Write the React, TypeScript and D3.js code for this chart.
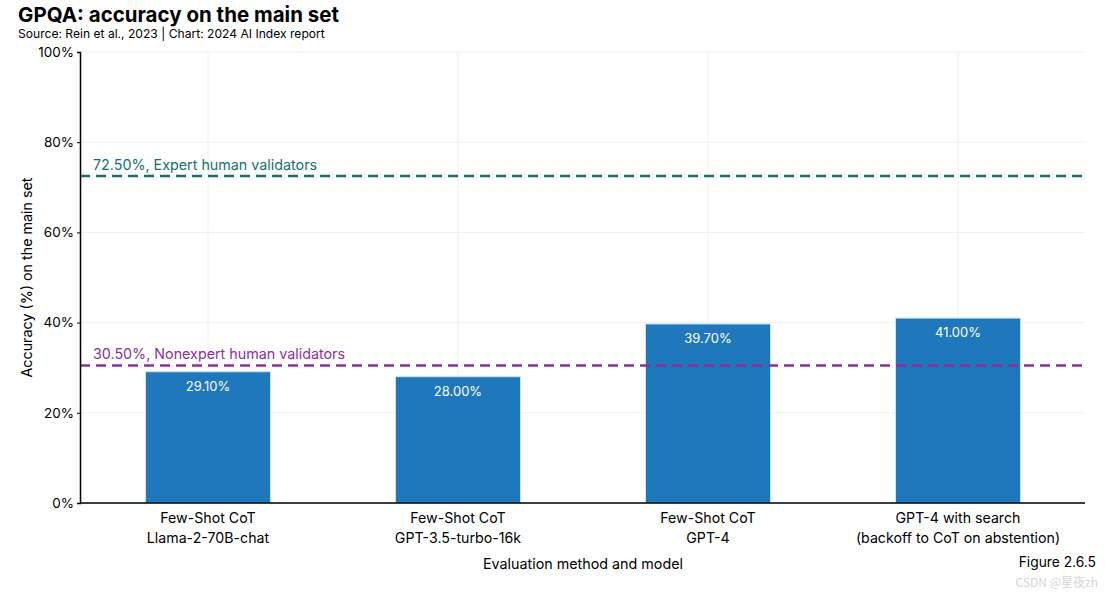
import { useRef, useEffect } from 'react';
import * as d3 from 'd3';

// Chart data
const methods = ["Few-Shot CoT", "Few-Shot CoT", "Few-Shot CoT", "GPT-4 with search"];
const models = ["Llama-2-70B-chat", "GPT-3.5-turbo-16k", "GPT-4", "(backoff to CoT on abstention)"];
const accuracy = [29.1, 28.0, 39.7, 41.0];
const yTicks = [0, 20, 40, 60, 80, 100];
const refLines = [
  { value: 72.5, label: "72.50%, Expert human validators", color: "#17706e" },
  { value: 30.5, label: "30.50%, Nonexpert human validators", color: "#8e2f9f" }
];

export default function App() {
  const ref = useRef<SVGSVGElement>(null);

  useEffect(() => {
    if (!ref.current) return;
    const width = 1105;
    const height = 592;
    const margin = { top: 52, right: 20, bottom: 89, left: 80 };
    const font = "Inter, 'Noto Sans', sans-serif";

    const svg = d3.select(ref.current)
      .attr('width', width)
      .attr('height', height)
      .style('font-family', font);

    svg.selectAll("*").remove();

    const idx = accuracy.map((_, i) => String(i));

    const x = d3.scaleBand()
      .domain(idx)
      .range([83, 1083])
      .paddingInner(0.5)
      .paddingOuter(0.25);

    const y = d3.scaleLinear()
      .domain([0, 100])
      .range([height - margin.bottom, margin.top]);

    const plotRight = 1085;

    // Grid
    svg.append("g")
      .selectAll("line")
      .data(yTicks)
      .join("line")
      .attr("x1", margin.left)
      .attr("x2", plotRight)
      .attr("y1", d => y(d))
      .attr("y2", d => y(d))
      .attr("stroke", "#f0f0f0")
      .attr("stroke-width", 1);

    svg.append("g")
      .selectAll("line")
      .data(idx)
      .join("line")
      .attr("x1", d => x(d)! + x.bandwidth() / 2)
      .attr("x2", d => x(d)! + x.bandwidth() / 2)
      .attr("y1", y(100))
      .attr("y2", y(0))
      .attr("stroke", "#f0f0f0")
      .attr("stroke-width", 1);

    // Bars
    svg.append("g")
      .selectAll("rect")
      .data(accuracy)
      .join("rect")
      .attr("x", (_, i) => x(String(i))!)
      .attr("y", d => y(d))
      .attr("width", x.bandwidth())
      .attr("height", d => y(0) - y(d))
      .attr("fill", "#1f78bc")
      .attr("stroke", "#cfe0f0")
      .attr("stroke-width", 1);

    svg.append("g")
      .selectAll("text")
      .data(accuracy)
      .join("text")
      .attr("x", (_, i) => x(String(i))! + x.bandwidth() / 2)
      .attr("y", d => y(d) + 19)
      .attr("text-anchor", "middle")
      .attr("fill", "#ffffff")
      .style("font-size", "13px")
      .text(d => `${d.toFixed(2)}%`);

    // Reference lines
    const rl = svg.append("g");
    refLines.forEach(r => {
      rl.append("line")
        .attr("x1", margin.left)
        .attr("x2", plotRight)
        .attr("y1", y(r.value))
        .attr("y2", y(r.value))
        .attr("stroke", r.color)
        .attr("stroke-width", 2.5)
        .attr("stroke-dasharray", "10,6");
      rl.append("text")
        .attr("x", 93)
        .attr("y", y(r.value) - 6)
        .attr("fill", r.color)
        .style("font-size", "14.3px")
        .text(r.label);
    });

    // Axes
    const yAxis = svg.append("g")
      .attr("transform", `translate(${margin.left},0)`)
      .call(d3.axisLeft(y).tickValues(yTicks).tickSize(3).tickFormat(d => d + "%"));
    yAxis.select(".domain").attr("stroke", "#000").attr("stroke-width", 1.5);
    yAxis.selectAll("text").style("font-size", "13.5px").style("font-family", font).attr("fill", "#000");

    const xAxis = svg.append("g")
      .attr("transform", `translate(0,${y(0)})`)
      .call(d3.axisBottom(x).tickSize(0).tickFormat(() => ""));
    xAxis.select(".domain").attr("d", `M${margin.left},0H${plotRight}`).attr("stroke", "#000").attr("stroke-width", 1.5);

    const xl = svg.append("g")
      .selectAll("text")
      .data(idx)
      .join("text")
      .attr("x", d => x(d)! + x.bandwidth() / 2)
      .attr("y", y(0) + 20)
      .attr("text-anchor", "middle")
      .attr("fill", "#000")
      .style("font-size", "14.2px");
    xl.append("tspan").attr("x", d => x(d)! + x.bandwidth() / 2).attr("dy", 0).text(d => methods[+d]);
    xl.append("tspan").attr("x", d => x(d)! + x.bandwidth() / 2).attr("dy", 20).text(d => models[+d]);

    // Axis titles
    svg.append("text")
      .attr("x", 583)
      .attr("y", 569)
      .attr("text-anchor", "middle")
      .style("font-size", "14.3px")
      .text("Evaluation method and model");

    svg.append("text")
      .attr("transform", `translate(32,${y(50)}) rotate(-90)`)
      .attr("text-anchor", "middle")
      .style("font-size", "14.3px")
      .text("Accuracy (%) on the main set");

    // Title
    svg.append("text")
      .attr("x", 18)
      .attr("y", 22)
      .style("font-size", "20.5px")
      .style("font-weight", "bold")
      .text("GPQA: accuracy on the main set");

    svg.append("text")
      .attr("x", 18)
      .attr("y", 38)
      .style("font-size", "12.1px")
      .text("Source: Rein et al., 2023 | Chart: 2024 AI Index report");

    svg.append("text")
      .attr("x", 1096)
      .attr("y", 567)
      .attr("text-anchor", "end")
      .style("font-size", "13.8px")
      .text("Figure 2.6.5");

    svg.append("text")
      .attr("x", 1098)
      .attr("y", 587)
      .attr("text-anchor", "end")
      .attr("fill", "#cccccc")
      .attr("opacity", 0.8)
      .style("font-size", "12px")
      .style("font-family", "'Noto Sans CJK SC', sans-serif")
      .text("CSDN @星夜zh");
  }, []);

  return (
    <svg ref={ref} style={{ position: "absolute", left: 0, top: 0, background: "#fff" }}></svg>
  );
}
